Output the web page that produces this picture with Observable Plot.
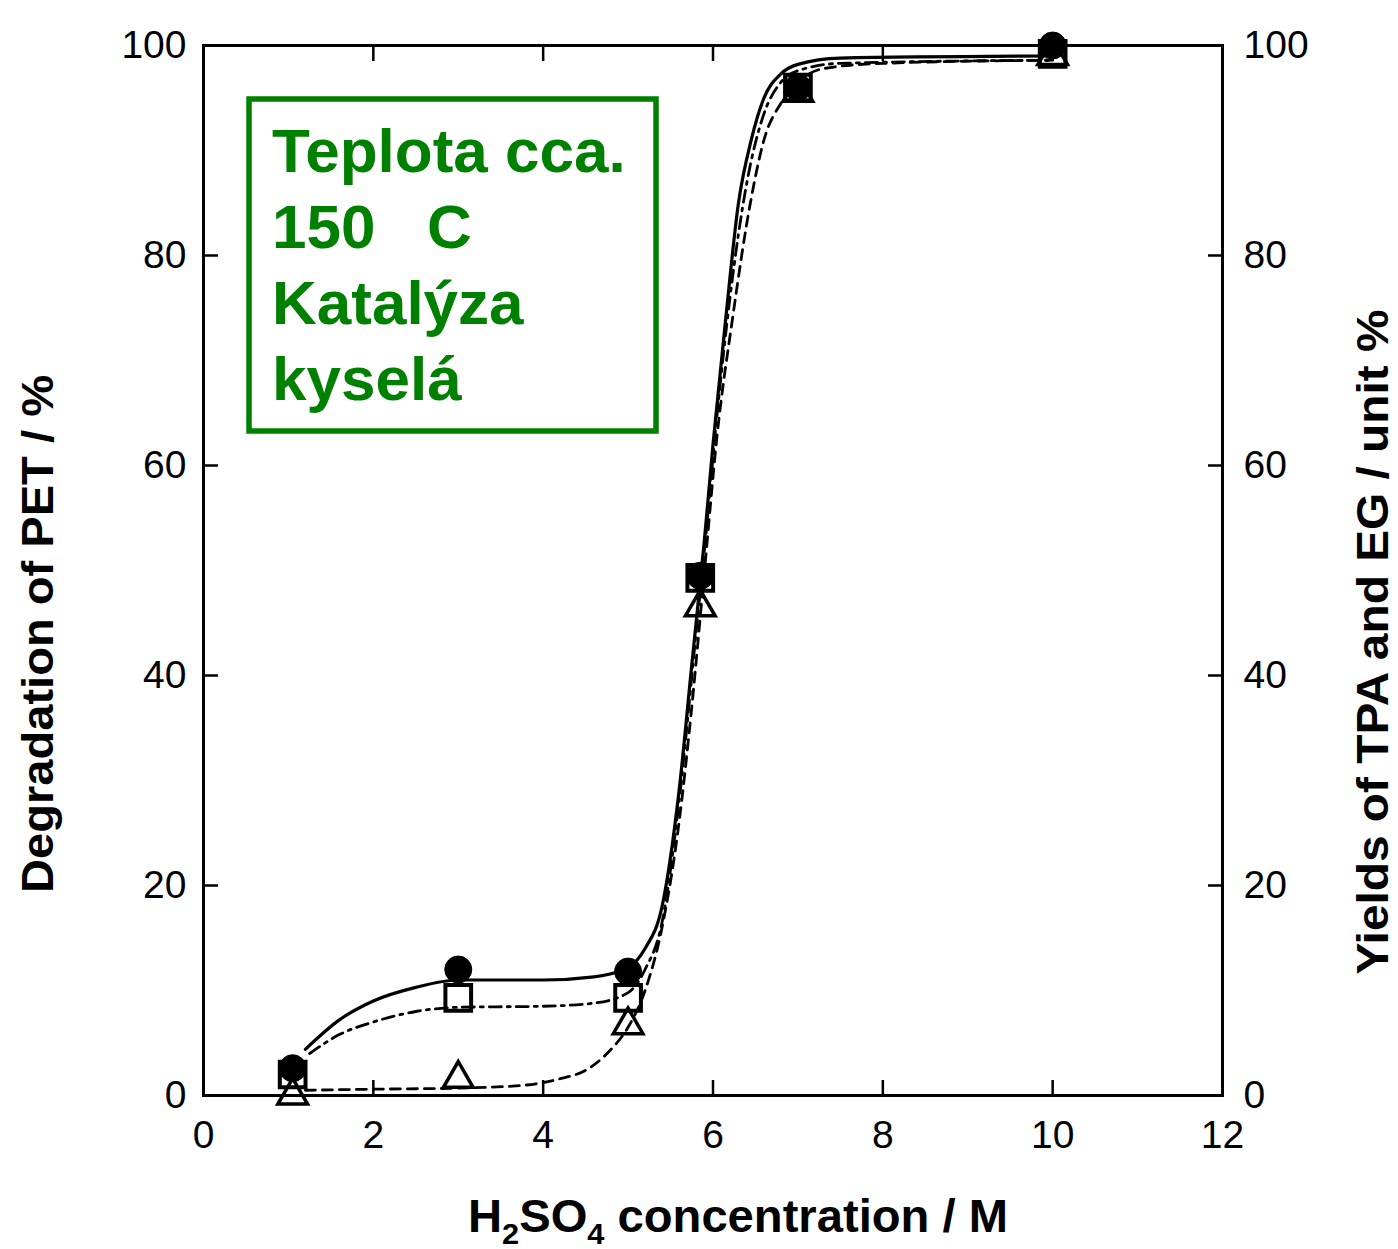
<!DOCTYPE html>
<html><head><meta charset="utf-8">
<script src="https://cdn.jsdelivr.net/npm/d3@7"></script>
<script src="https://cdn.jsdelivr.net/npm/@observablehq/plot@0.6"></script>
<style>body{margin:0;background:#fff}</style>
</head><body><div id="chart"></div>
<script>
// measured points
const concentration = [1.05, 3, 5, 5.85, 7.0, 10];
const degradation   = [2.6, 12.0, 11.8, 49.5, 96.0, 100];
const tpaYield      = [2.0, 9.3, 9.3, 49.3, 96.0, 99.2];
const egYield       = [0.0, 1.6, 6.7, 46.5, 95.5, 99.0];

// fitted curves
const degFitX = [1.2, 1.6, 2.0, 2.5, 3.0, 4.0, 4.6, 5.0, 5.2, 5.4, 5.6, 5.75, 5.9, 6.0, 6.15, 6.3, 6.45, 6.6, 6.8, 7.0, 7.5, 10];
const degFitY = [4.4, 7.2, 9.0, 10.3, 11.0, 11.0, 11.3, 12.2, 14, 18, 29, 41, 53, 62, 74, 85, 91, 95, 97.3, 98.2, 98.8, 99.0];
const tpaFitX = [1.25, 1.6, 2.0, 2.5, 3.0, 4.0, 4.6, 5.0, 5.2, 5.4, 5.6, 5.8, 5.9, 6.05, 6.2, 6.4, 6.6, 6.8, 7.0, 7.5, 10];
const tpaFitY = [4.0, 5.8, 7.0, 8.0, 8.4, 8.5, 8.8, 9.8, 12, 16.5, 28, 44, 52, 65, 76, 87, 93.5, 96.5, 97.6, 98.3, 98.6];
const egFitX  = [1.2, 2.0, 3.0, 3.8, 4.2, 4.5, 4.8, 5.0, 5.2, 5.4, 5.6, 5.75, 5.9, 6.05, 6.23, 6.44, 6.6, 6.8, 7.0, 7.3, 8.0, 10];
const egFitY  = [0.5, 0.6, 0.7, 1.0, 1.6, 2.4, 4.4, 6.5, 10, 16, 26, 37, 50, 63, 74, 85, 91, 94.5, 96.5, 97.8, 98.3, 98.6];

const xTicks = [0, 2, 4, 6, 8, 10, 12];
const yTicks = [0, 20, 40, 60, 80, 100];
const xLabelParts = ["H", "2", "SO", "4", " concentration / M"];
const yLeftLabel = "Degradation of PET / %";
const yRightLabel = "Yields of TPA and EG / unit %";
const noteLines = ["Teplota cca.", "150   C", "Katalýza", "kyselá"];

const pts = concentration.map((c, i) => ({c, deg: degradation[i], tpa: tpaYield[i], eg: egYield[i]}));
const fit = (xs, ys) => xs.map((x, i) => ({x, y: ys[i]}));

const svg = Plot.plot({
  width: 1398, height: 1249,
  marginLeft: 203, marginRight: 176, marginTop: 45, marginBottom: 154,
  style: {fontFamily: "Liberation Sans, Arial, sans-serif", fontSize: "39px", background: "#fff", color: "#000"},
  x: {domain: [0, 12]},
  y: {domain: [0, 100]},
  marks: [
    Plot.axisX({anchor: "bottom", ticks: xTicks, tickSize: -15, tickPadding: 40, tickFormat: d => d, label: null, fontSize: 39, strokeWidth: 2.5}),
    Plot.axisX({anchor: "top", ticks: xTicks, tickSize: -15, text: null, label: null, strokeWidth: 2.5}),
    Plot.axisY({anchor: "left", ticks: yTicks, tickSize: -15, tickPadding: 32, tickFormat: d => d, label: null, fontSize: 39, strokeWidth: 2.5}),
    Plot.axisY({anchor: "right", ticks: yTicks, tickSize: -15, tickPadding: 36, tickFormat: d => d, label: null, fontSize: 39, strokeWidth: 2.5}),
    Plot.frame({stroke: "#000", strokeWidth: 3}),
    Plot.line(fit(degFitX, degFitY), {x: "x", y: "y", curve: "monotone-x", stroke: "#000", strokeWidth: 3.2}),
    Plot.line(fit(tpaFitX, tpaFitY), {x: "x", y: "y", curve: "monotone-x", stroke: "#000", strokeWidth: 2.8, strokeDasharray: "12,6,3,6"}),
    Plot.line(fit(egFitX, egFitY), {x: "x", y: "y", curve: "monotone-x", stroke: "#000", strokeWidth: 2.8, strokeDasharray: "10,7"}),
    Plot.dot(pts, {x: "c", y: "eg", symbol: "triangle", r: 11, fill: "none", stroke: "#000", strokeWidth: 3.5}),
    Plot.dot(pts, {x: "c", y: "tpa", symbol: "square", r: 14.5, fill: "none", stroke: "#000", strokeWidth: 4}),
    Plot.dot(pts, {x: "c", y: "deg", symbol: "circle", r: 13.5, fill: "#000", stroke: "#000", strokeWidth: 1})
  ]
});
document.getElementById("chart").appendChild(svg);

const s = d3.select(svg);
const font = "Liberation Sans, Arial, sans-serif";
// x label with subscripts
const xl = s.append("text").attr("x", 738).attr("y", 1232).attr("text-anchor", "middle")
  .attr("font-family", font).attr("font-weight", "bold").attr("font-size", 46)
  .attr("textLength", 540).attr("lengthAdjust", "spacingAndGlyphs").attr("fill", "#000");
xLabelParts.forEach((p, i) => {
  const sub = i === 1 || i === 3;
  xl.append("tspan").text(p).attr("font-size", sub ? 30 : 46).attr("dy", sub ? 12 : (i === 0 ? 0 : -12)).style("white-space", "pre");
});
s.append("text").attr("transform", "translate(53,634) rotate(-90)").attr("text-anchor", "middle")
  .attr("font-family", font).attr("font-weight", "bold").attr("font-size", 44)
  .attr("textLength", 518).attr("lengthAdjust", "spacingAndGlyphs").text(yLeftLabel);
s.append("text").attr("transform", "translate(1388,642) rotate(-90)").attr("text-anchor", "middle")
  .attr("font-family", font).attr("font-weight", "bold").attr("font-size", 44)
  .attr("textLength", 665).attr("lengthAdjust", "spacingAndGlyphs").text(yRightLabel);
// annotation box
s.append("rect").attr("x", 249).attr("y", 99).attr("width", 407).attr("height", 332)
  .attr("fill", "#fff").attr("stroke", "#008000").attr("stroke-width", 5.5);
noteLines.forEach((t, i) => {
  s.append("text").attr("x", 272).attr("y", 172 + i * 76).attr("fill", "#008000").attr("text-anchor", "start")
    .attr("font-family", font).attr("font-weight", "bold").attr("font-size", 62)
    .style("white-space", "pre").text(t);
});
</script></body></html>
